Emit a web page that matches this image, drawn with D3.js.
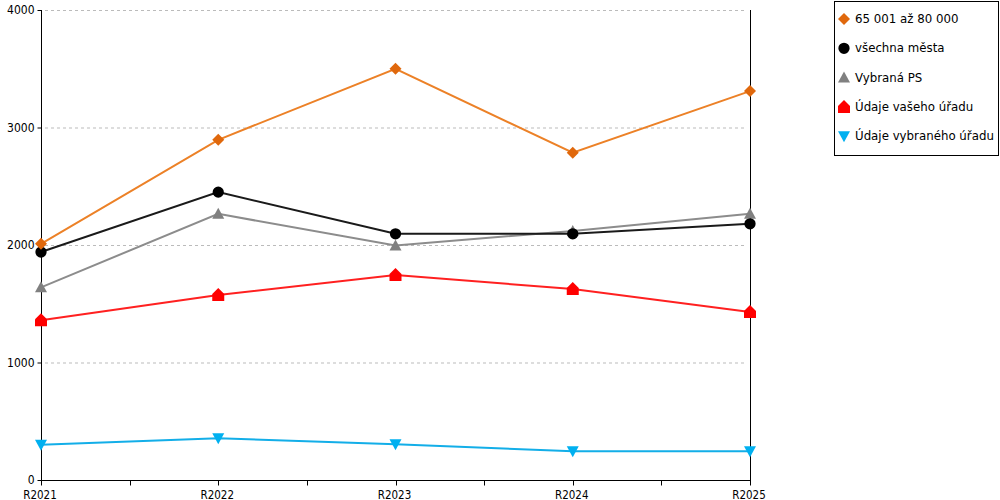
<!DOCTYPE html>
<html>
<head>
<meta charset="utf-8">
<script src="https://cdn.jsdelivr.net/npm/d3@7/dist/d3.min.js"></script>
<style>
  body { margin: 0; background: #fff; }
  text { font-family: "DejaVu Sans Condensed", "DejaVu Sans", sans-serif; font-size: 11.5px; fill: #000; }
</style>
</head>
<body>
<div id="chart"></div>
<script>
// data
var years = ["R2021", "R2022", "R2023", "R2024", "R2025"];
var yTicks = [0, 1000, 2000, 3000, 4000];
var seriesNames = ["65 001 až 80 000", "všechna města", "Vybraná PS", "Údaje vašeho úřadu", "Údaje vybraného úřadu"];
var orangeVals = [2010, 2895, 3500, 2785, 3310];
var blackVals = [1940, 2450, 2095, 2095, 2180];
var greyVals = [1640, 2265, 1995, 2120, 2265];
var redVals = [1360, 1575, 1745, 1625, 1430];
var blueVals = [300, 355, 305, 245, 245];

var W = 1000, H = 500;
var padL = 41, padR = 750, padT = 10, padB = 480;

var svg = d3.select("#chart").append("svg")
  .attr("width", W).attr("height", H);

var x = d3.scalePoint().domain(years).range([padL, padR]);
var y = d3.scaleLinear().domain([0, 4000]).range([padB, padT]);

// grid
svg.selectAll(".grid").data(yTicks.filter(function(d){ return d > 0; }))
  .enter().append("line")
  .attr("x1", padL + 4).attr("x2", padR - 4)
  .attr("y1", function(d){ return y(d) + 0.5; })
  .attr("y2", function(d){ return y(d) + 0.5; })
  .attr("stroke", "#bbb").attr("stroke-dasharray", "3,3");

// y axis
var yAxis = d3.axisLeft(y).tickValues(yTicks).tickSize(4).tickPadding(3).tickFormat(d3.format("d"));
var gy = svg.append("g").attr("transform", "translate(" + (padL + 0.5) + ",0)").call(yAxis);
gy.select(".domain").remove();
gy.append("line").attr("x1", 0).attr("x2", 0).attr("y1", padT).attr("y2", padB).attr("stroke", "#000");
gy.selectAll("text").style("font-size", "12px").attr("fill", "#000")
  .style("font-family", "'DejaVu Sans Condensed', 'DejaVu Sans', sans-serif");

// right vertical line
svg.append("line")
  .attr("x1", padR + 0.5).attr("x2", padR + 0.5)
  .attr("y1", padT).attr("y2", padB)
  .attr("stroke", "#000");

// x axis with minor ticks between categories
var gx = svg.append("g").attr("transform", "translate(0," + (padB + 0.5) + ")");
gx.append("line").attr("x1", padL).attr("x2", padR + 1).attr("stroke", "#000");
var step = x.step();
var tickPos = [];
years.forEach(function(d, i){
  tickPos.push(x(d));
  if (i < years.length - 1) tickPos.push(x(d) + step / 2);
});
gx.selectAll(".tk").data(tickPos).enter().append("line")
  .attr("x1", function(d){ return Math.round(d) + 0.5; })
  .attr("x2", function(d){ return Math.round(d) + 0.5; })
  .attr("y1", 0).attr("y2", 5).attr("stroke", "#000");
gx.selectAll(".lbl").data(years).enter().append("text")
  .attr("x", function(d){ return x(d) - 1; })
  .attr("y", 18)
  .attr("text-anchor", "middle")
  .text(function(d){ return d; });

// symbols
function house(s) {
  var h = s / 2;
  return "M" + (-h) + "," + h + "L" + (-h) + ",-1L0," + (-h - 1) + "L" + h + ",-1L" + h + "," + h + "Z";
}
var shapes = [
  function(){ return "M0,-6L6,0L0,6L-6,0Z"; },
  function(){ return d3.symbol(d3.symbolCircle, 100)(); },
  function(){ return "M0,-6L6,5L-6,5Z"; },
  function(){ return house(12); },
  function(){ return "M0,6L6,-5L-6,-5Z"; }
];
var lineColors = ["#ec8127", "#1a1a1a", "#8c8c8c", "#ff2020", "#13aee8"];
var markColors = ["#e0680c", "#000000", "#808080", "#ff0000", "#00b0f0"];
var allVals = [orangeVals, blackVals, greyVals, redVals, blueVals];

var line = d3.line()
  .x(function(d, i){ return x(years[i]); })
  .y(function(d){ return y(d); });

// draw bottom-up so the orange series sits on top like the original
for (var s = allVals.length - 1; s >= 0; s--) {
  var g = svg.append("g");
  g.append("path").datum(allVals[s])
    .attr("d", line).attr("fill", "none")
    .attr("stroke", lineColors[s]).attr("stroke-width", 2);
  g.selectAll("path.mk").data(allVals[s]).enter().append("path")
    .attr("class", "mk")
    .attr("transform", function(d, i){ return "translate(" + x(years[i]) + "," + y(d) + ")"; })
    .attr("d", shapes[s]())
    .attr("fill", markColors[s]);
}

// legend
var lg = svg.append("g").attr("transform", "translate(834,1)");
lg.append("rect").attr("x", 0.5).attr("y", 0.5).attr("width", 164).attr("height", 154)
  .attr("fill", "#fff").attr("stroke", "#000");
seriesNames.forEach(function(name, i){
  var yy = 18 + i * 29.3;
  lg.append("path")
    .attr("transform", "translate(10," + yy + ")")
    .attr("d", shapes[i]())
    .attr("fill", markColors[i]);
  lg.append("text").attr("x", 21).attr("y", yy + 4)
    .style("font-family", "'DejaVu Sans', sans-serif")
    .style("font-size", "11.8px")
    .text(name);
});
</script>
</body>
</html>
